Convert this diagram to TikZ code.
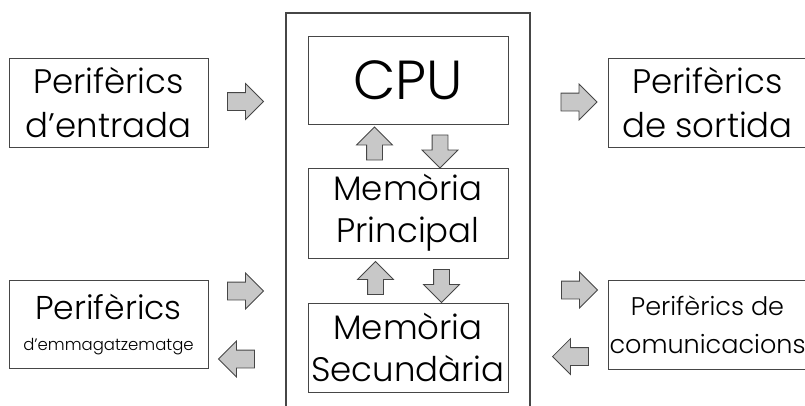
\documentclass[tikz,border=0pt]{standalone}
\usepackage{fontspec}
\setmainfont{Poppins}[UprightFont=* Light]
\usetikzlibrary{shapes.arrows,positioning}
\definecolor{boxline}{RGB}{70,70,70}
\definecolor{arrowfill}{RGB}{200,200,200}
\tikzset{unitbox/.style={draw=boxline, line width=1pt, minimum width=199pt,
           minimum height=89pt, inner sep=0pt, align=center},
         blockarrow/.style={single arrow, draw=boxline, fill=arrowfill,
           line width=0.8pt, inner sep=8.5pt, minimum height=36pt,
           single arrow head extend=9pt},
         toright/.style={blockarrow},
         toleft/.style={blockarrow, shape border rotate=180},
         toup/.style={blockarrow, shape border rotate=90, inner sep=7.5pt,
           single arrow head extend=10pt, minimum height=33pt},
         todown/.style={toup, shape border rotate=270}}

\begin{document}
\begin{tikzpicture}[x=1pt,y=-1pt]
  \clip (0,0) rectangle (805,405);
  \useasboundingbox (0,0) rectangle (805,405);
  % ordinador
  \node (pc) [draw=boxline, line width=1.3pt, minimum width=244pt,
    minimum height=420pt] at (408,223) {};
  \node (cpu) [unitbox, minimum width=200pt, minimum height=88pt,
    font=\fontsize{55}{60}\selectfont] at (408,80) {CPU};
  \node (mp) [unitbox, minimum width=200pt, minimum height=90pt,
    font=\fontsize{34}{42}\selectfont] at (408,213) {Memòria\\Principal};
  \node (ms) [unitbox, minimum width=200pt,
    font=\fontsize{34}{42}\selectfont] at (408,347.5) {Memòria\\Secundària};
  % periferics
  \node (ent) [unitbox, font=\fontsize{34}{44}\selectfont]
    at (108.5,102.5) {Perifèrics\\d’entrada};
  \node (emm) [unitbox, minimum height=88pt, font=\fontsize{33}{44}\selectfont]
    at (108.5,324) {Perifèrics\\[-13pt]{\fontsize{16.5}{20}\selectfont d’emmagatzematge}};
  \node (sor) [unitbox, font=\fontsize{34}{44}\selectfont]
    at (707.5,102.5) {Perifèrics\\de sortida};
  \node (com) [unitbox, font=\fontsize{25.5}{38}\selectfont]
    at (707.5,324.5) {Perifèrics de\\comunicacions};
  % fletxes
  \node (f1) [toright] at (241,101.5) {};
  \node (f2) [toright] at (574.5,102) {};
  \node (f3) [toup] at (374.5,147.5) {};
  \node (f4) [todown] at (440,147.5) {};
  \node (f5) [toup] at (375.5,282) {};
  \node (f6) [todown] at (441.5,282) {};
  \node (f7) [toright] at (241,291) {};
  \node (f8) [toleft] at (241,359) {};
  \node (f9) [toright] at (575,290) {};
  \node (f10) [toleft] at (575,356.5) {};
\end{tikzpicture}
\end{document}
